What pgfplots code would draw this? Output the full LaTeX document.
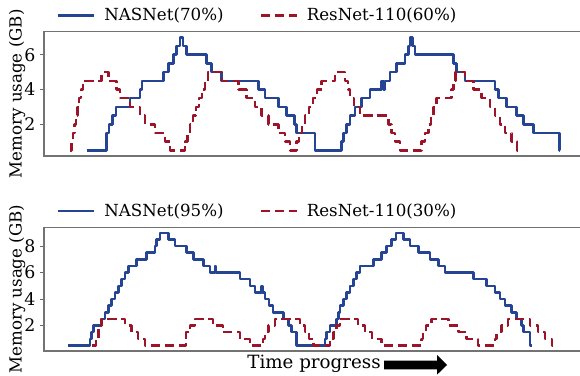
\documentclass[border=0pt]{standalone}
\usepackage{pgfplots}
\pgfplotsset{compat=1.18}
\usepackage{fontspec}
\setmainfont{DejaVu Serif}
\definecolor{nblue}{RGB}{38,68,148}
\definecolor{rred}{RGB}{155,20,42}
\newcommand{\fs}{\fontsize{12.5}{15}\selectfont}
\pgfplotsset{
 myax/.style={
  scale only axis, width=403.5pt,
  xmin=44, xmax=582,
  axis line style={draw=black!55, line width=0.9pt},
  xtick=\empty,
  tick align=outside, tick style={black!60, line width=0.8pt}, major tick length=3pt,
  yticklabel style={font=\fontsize{13}{15}\selectfont},
  /pgf/number format/assume math mode=true,
  ylabel={Memory usage (GB)},
  ylabel style={font=\fs, at={(axis description cs:-0.05,0.5)}, anchor=center},
  legend columns=2,
  legend style={draw=none, fill=none, font=\fs, at={(axis description cs:0.024,1.13)}, anchor=west, inner xsep=0pt,
    /tikz/every even column/.append style={column sep=25pt}},
  legend image code/.code={\draw[#1] (0pt,0pt) -- (27pt,0pt); \path (31.5pt,0pt);},
 },
 bl/.style={const plot, color=nblue, line width=1.9pt, line join=round},
 rd/.style={const plot, color=rred, line width=1.9pt, line join=round, dash pattern=on 7pt off 3.5pt},
}
\begin{document}
\begin{tikzpicture}
\useasboundingbox (0,0) rectangle (435pt,-281.25pt);
\begin{axis}[myax, at={(33pt,-117pt)}, anchor=south west, height=93.2pt,
  ymin=0.175, ymax=7.325, ytick={2,4,6}]
\addplot[bl] coordinates {
(86.7,0.5) (106.5,1.5) (109,2) (112.5,2.5) (116,3) (130,3.5) (140,4) (142,4.5)
(163.3,5) (168.3,5.5) (173.3,6) (176.7,6.5) (180,7) (183,6.5) (186.7,6) (206.7,5.5)
(211.7,5) (221.7,4.5) (258.3,4) (265,3.5) (278.3,3) (286.7,2.5) (294.3,2) (296.7,1.5)
(315,0.5) (341.7,1) (343.3,1.5) (346.7,2) (350,2.5) (355,3) (361.7,3.5) (370,4)
(381.7,4.5) (383.3,4) (385,4.5) (390,5) (396.7,5.5) (405,6) (408.3,6.5) (410,7)
(412.5,6.5) (415,6) (453.3,5.5) (456.7,5) (465,4.5) (495,4) (498.3,3.5) (506.7,3)
(516.7,2.5) (523.3,2) (533.3,1.5) (559.3,0.5) (559.4,0.5)};
\addlegendentry{NASNet(70\%)}
\addplot[rd] coordinates {
(70,0.5) (71.5,1) (73,1.5) (74.5,2) (76,2.5) (77.5,3) (79,3.5) (81,4) (83,4.5)
(101.7,5) (108.3,4.5) (116.7,4) (120,3.5) (130,3) (140,2.5) (145,2) (155,1.5) (165,1)
(170,0.5) (185,1) (187.5,1.5) (190,2) (193,2.5) (196,3) (199,3.5) (202,4) (205,4.5)
(208,5) (222,4.5) (238.3,4) (246.7,3.5) (255,3) (261.7,2.5) (268.3,2) (278.3,1.5)
(285,1) (290,0.5) (296.7,1) (299,1.5) (302,2) (305,2.5) (309,3) (313,3.5) (317,4)
(321.7,4.5) (335,5) (345,4.5) (348,4) (350,3.5) (354,3) (360,2.5) (388.3,2) (391.7,1.5)
(395,1) (400,0.5) (421.7,1) (425,1.5) (428.3,2) (431,2.5) (433.3,3) (436.7,3.5)
(451.7,4) (453.3,4.5) (455.5,5) (465,4.5) (473.3,4) (481.7,3.5) (490,3) (495,2.5)
(500,2) (505,1.5) (511.7,1) (517,0.5) (520,0.5)};
\addlegendentry{ResNet-110(60\%)}
\end{axis}
\begin{axis}[myax, at={(33pt,-263.25pt)}, anchor=south west, height=92.8pt,
  ymin=0.075, ymax=9.425, ytick={2,4,6,8}]
\addplot[bl] coordinates {
(68.3,0.5) (90,1) (91.7,1.5) (93.3,2) (101.7,2.5) (105,3) (108.3,3.5) (111.6,4)
(115,4.5) (118.3,5) (121.6,5.5) (125,6) (128.3,6.5) (136.7,7) (146.7,7.5) (155,8)
(156.7,8.5) (160,9) (168.3,8.5) (175,8) (186.7,7.5) (193.3,7) (203.3,6.5) (210,6)
(215,6.5) (216.2,6) (240,5.5) (250,5) (255,4.5) (261.7,5) (262.5,4.5) (265,4)
(269,3.5) (273,3) (283.3,2.5) (288.3,2) (291.7,1.5) (296.7,0.5) (325,1) (326.7,1.5)
(330,2) (336.7,2.5) (338.3,3) (340,3.5) (343.3,4) (346.7,4.5) (350,5) (353.3,5.5)
(356.7,6) (360,6.5) (373.3,7) (381.7,7.5) (386.7,8) (391.7,8.5) (396,9) (403.3,8.5)
(410,8) (418.3,7.5) (430,7) (438.3,6.5) (445,6) (473.3,5.5) (486.7,5) (495,4.5)
(500,4) (505,3.5) (511.7,3) (516.7,2.5) (521.7,2) (523.3,1.5) (530,0.5) (531.7,0.5)};
\addlegendentry{NASNet(95\%)}
\addplot[rd] coordinates {
(91.7,0.5) (96,1) (98.3,2) (101.7,2.5) (125,2) (131.7,1.5) (138,1) (145,0.5)
(186,1.5) (190,2) (195,2.5) (213,2) (223,1.5) (240,1) (250,0.5) (263,1) (265,1.5)
(268.3,2) (275,2.5) (300,2) (305,1.5) (309,1) (313.3,0.5) (330,1) (333.3,1.5)
(336.7,2) (340,2.5) (358,2) (365,1.5) (372,1) (381.7,0.5) (421.7,1) (423,1.5)
(426,2) (431.7,2.5) (448.3,2) (458.3,1.5) (466.7,1) (478,0.5) (495,1) (496.7,1.5)
(501.7,2) (508,2.5) (530,2) (538,1.5) (545,1) (552,0.5) (557,0.5)};
\addlegendentry{ResNet-110(30\%)}
\end{axis}
\node[font=\fontsize{13.7}{16}\selectfont, anchor=center] at (235.5pt,-273pt) {Time progress};
\fill[black] (288pt,-270.4pt) -- (327.75pt,-270.4pt) -- (327.75pt,-266.25pt) -- (335.25pt,-273.75pt)
  -- (327.75pt,-281pt) -- (327.75pt,-277.1pt) -- (288pt,-277.1pt) -- cycle;
\end{tikzpicture}
\end{document}
